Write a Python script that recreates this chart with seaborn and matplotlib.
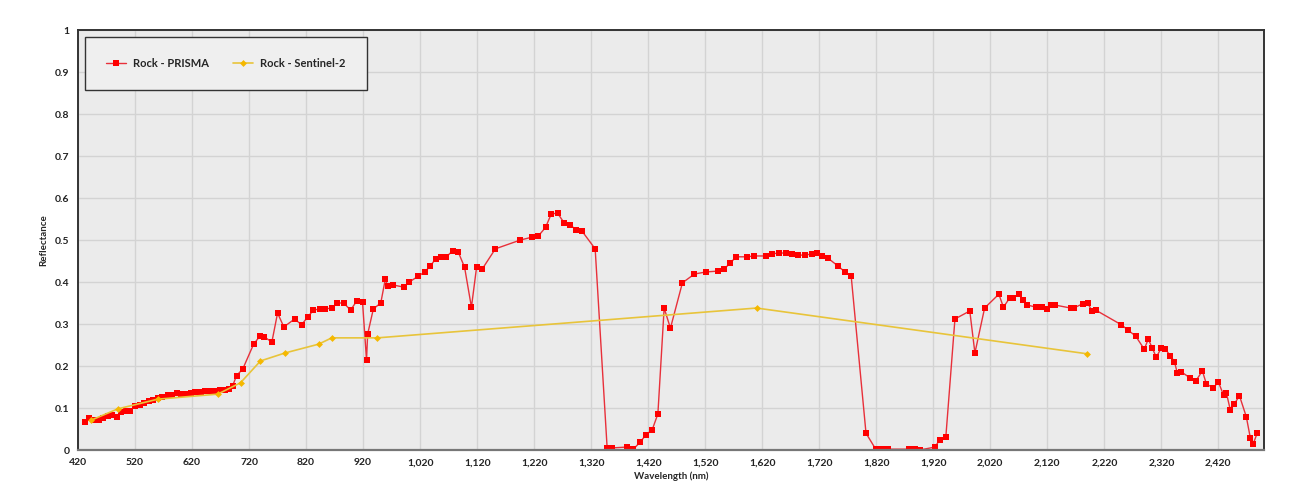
import pandas as pd
import seaborn as sns
from matplotlib import pyplot as plt
from matplotlib.ticker import FuncFormatter

# PRISMA spectrum (wavelength nm, reflectance)
prisma_wl = [432, 440, 448, 456, 464, 472, 480, 488, 496, 504, 512, 520, 528, 536,
             544, 552, 560, 568, 577, 585, 593, 601, 610, 618, 626, 635, 643, 652,
             660, 669, 677, 684, 691, 698, 709,
             728, 739, 747, 760, 770, 781, 800, 812, 823, 833, 844, 854, 865, 875,
             886, 898, 909, 919, 926, 928, 938, 951, 959, 963, 972, 991, 1001,
             1017, 1028, 1038, 1047, 1056, 1066, 1077, 1087, 1098, 1110, 1119, 1129,
             1152, 1196, 1217, 1227, 1240, 1250, 1261, 1273, 1283, 1294, 1304, 1327,
             1348, 1357, 1383, 1394, 1406, 1416, 1427, 1437, 1448, 1459, 1480, 1501,
             1522, 1543, 1553, 1564, 1574, 1593, 1606, 1627, 1637, 1649, 1662, 1672,
             1683, 1695, 1707, 1716, 1725, 1735, 1753, 1765, 1776,
             1802, 1819, 1830, 1840, 1877, 1888, 1896, 1923, 1931, 1942, 1958, 1984,
             1993, 2010, 2035, 2043, 2054, 2059, 2070, 2077, 2085, 2101, 2110, 2119,
             2127, 2134, 2161, 2166, 2182, 2191, 2198, 2205, 2250, 2261, 2275, 2290,
             2297, 2304, 2311, 2320, 2327, 2336, 2343, 2348, 2355, 2371, 2380, 2392,
             2399, 2411, 2420, 2429, 2434, 2441, 2448, 2457, 2469, 2476, 2481, 2488]
prisma_refl = [0.067, 0.076, 0.072, 0.071, 0.077, 0.080, 0.083, 0.079, 0.090, 0.094,
               0.094, 0.104, 0.108, 0.112, 0.116, 0.119, 0.123, 0.126, 0.130, 0.132,
               0.135, 0.134, 0.133, 0.136, 0.138, 0.138, 0.140, 0.140, 0.141, 0.142,
               0.144, 0.145, 0.152, 0.177, 0.193,
               0.252, 0.271, 0.269, 0.257, 0.326, 0.293, 0.312, 0.298, 0.317, 0.333,
               0.336, 0.336, 0.338, 0.350, 0.350, 0.333, 0.355, 0.352, 0.214, 0.276,
               0.336, 0.350, 0.407, 0.390, 0.393, 0.388, 0.400,
               0.414, 0.424, 0.438, 0.455, 0.460, 0.460, 0.474, 0.471, 0.435, 0.340,
               0.435, 0.431, 0.479, 0.500, 0.507, 0.509, 0.530, 0.562, 0.564, 0.540,
               0.536, 0.524, 0.521, 0.479,
               0.005, 0.005, 0.007, 0.002, 0.019, 0.036, 0.048, 0.086, 0.338, 0.290,
               0.398, 0.419, 0.424, 0.426, 0.431, 0.445, 0.460, 0.460, 0.462, 0.462,
               0.467, 0.469, 0.469, 0.467, 0.464, 0.464, 0.467, 0.469, 0.462, 0.457,
               0.438, 0.424, 0.414,
               0.040, 0.002, 0.002, 0.002, 0.002, 0.002, 0.000, 0.007, 0.024, 0.031,
               0.312, 0.331, 0.231, 0.338, 0.371, 0.340, 0.362, 0.362, 0.371, 0.357,
               0.345, 0.340, 0.340, 0.336, 0.345, 0.345, 0.338, 0.338, 0.348, 0.350,
               0.331, 0.333, 0.298, 0.286, 0.271, 0.240, 0.264, 0.243, 0.221, 0.243,
               0.240, 0.224, 0.210, 0.183, 0.186, 0.171, 0.164, 0.188, 0.157, 0.148,
               0.162, 0.131, 0.136, 0.095, 0.110, 0.129, 0.079, 0.029, 0.014, 0.040]

# Sentinel-2 bands
s2_wl = [443, 490, 560, 665, 705, 740, 783, 842, 865, 945, 1610, 2190]
s2_refl = [0.071, 0.098, 0.121, 0.133, 0.160, 0.212, 0.231, 0.252, 0.267, 0.267, 0.338, 0.229]

prisma = pd.DataFrame({'wl': prisma_wl, 'refl': prisma_refl})
s2 = pd.DataFrame({'wl': s2_wl, 'refl': s2_refl})

sns.set_style('whitegrid', {'axes.facecolor': '#ebebeb', 'grid.color': '#d3d3d3',
                            'axes.edgecolor': '#3a3a3a'})
plt.rcParams['font.family'] = ['Lato', 'DejaVu Sans']

fig = plt.figure(figsize=(12.97, 4.94), dpi=100)
ax = fig.add_axes([78 / 1297, 44 / 494, 1186 / 1297, 420 / 494])

sns.lineplot(data=prisma, x='wl', y='refl', ax=ax, sort=False, color='#e8303a', lw=1,
             marker='s', markersize=5, markerfacecolor='#ff0000', markeredgewidth=0,
             label='Rock - PRISMA')
sns.lineplot(data=s2, x='wl', y='refl', ax=ax, sort=False, color='#e8c43a', lw=1.2,
             marker='D', markersize=3.5, markerfacecolor='#f5b800', markeredgewidth=0,
             label='Rock - Sentinel-2')

ax.set_xlim(420, 2500)
ax.set_ylim(0, 1)
ax.set_xticks(list(range(420, 2501, 100)))
ax.set_yticks([i / 10 for i in range(11)])
ax.xaxis.set_major_formatter(FuncFormatter(lambda v, p: f'{int(v):,}'))
ax.yaxis.set_major_formatter(FuncFormatter(lambda v, p: f'{v:g}'))
ax.tick_params(length=0, labelsize=7.5, labelcolor='#222222', pad=6)
for lab in ax.get_xticklabels() + ax.get_yticklabels():
    lab.set_fontweight('bold')
ax.grid(True, lw=1)

for side in ['left', 'top', 'right']:
    ax.spines[side].set_linewidth(1.4)
    ax.spines[side].set_color('#333333')
ax.spines['bottom'].set_linewidth(1.6)
ax.spines['bottom'].set_color('#777777')

ax.set_xlabel('Wavelength (nm)', fontsize=7, fontweight='bold', labelpad=3)
ax.set_ylabel('Reflectance', fontsize=7, fontweight='bold', labelpad=5)

leg = ax.legend(loc='upper left', bbox_to_anchor=(0.006, 0.984), borderaxespad=0, ncol=2,
                frameon=True, fancybox=False, facecolor='#efefef', edgecolor='#333333',
                framealpha=1, prop={'size': 8, 'weight': 'bold'}, borderpad=1.9,
                handlelength=1.8, handletextpad=0.6, columnspacing=2.2)
leg.get_frame().set_linewidth(1)

fig.savefig('out.png', dpi=100)
